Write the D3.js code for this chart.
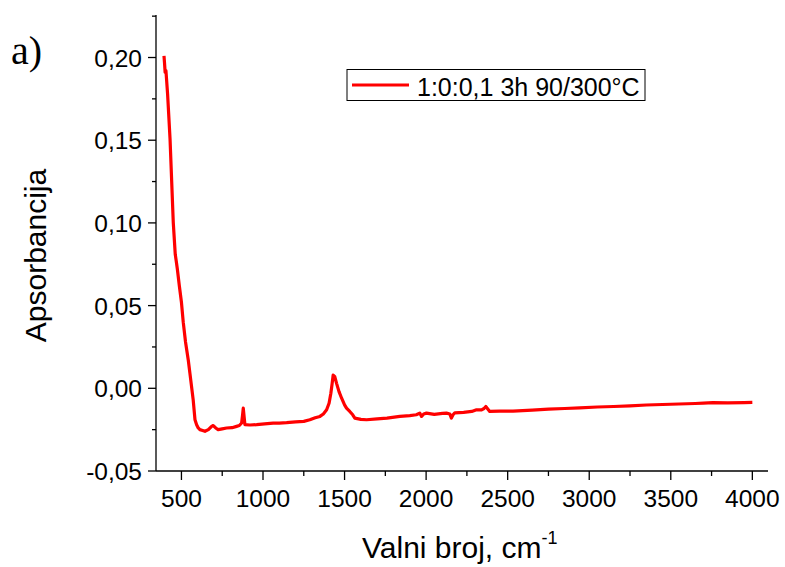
<!DOCTYPE html>
<html><head><meta charset="utf-8">
<script src="https://cdn.jsdelivr.net/npm/d3@7"></script>
<style>body{margin:0;background:#fff}svg{display:block}text{font-family:Arial,"Liberation Sans",sans-serif}</style>
</head><body>
<svg id="c" width="785" height="567"></svg>
<script>
// Data
const wavenumber = [393,396,400,405,415,430,450,462,468,475,487,500,511,525,542,552,562,572,583,593,603,613,630,644,665,685,695,710,725,750,777,810,838,855,869,875,879,884,889,920,961,1010,1062,1100,1145,1200,1250,1287,1320,1349,1370,1390,1405,1416,1424,1430,1440,1451,1466,1482,1500,1512,1532,1550,1563,1600,1635,1700,1760,1839,1900,1940,1961,1972,1985,2002,2050,2100,2125,2145,2155,2165,2176,2230,2280,2309,2340,2355,2366,2378,2390,2450,2533,2650,2750,2850,2942,3050,3150,3250,3350,3450,3550,3650,3700,3758,3850,3950,4000];
const absorbance = [0.201,0.197,0.191,0.192,0.178,0.151,0.100,0.081,0.077,0.072,0.062,0.052,0.040,0.028,0.017,0.009,0.001,-0.007,-0.019,-0.022,-0.024,-0.025,-0.0255,-0.026,-0.025,-0.023,-0.0225,-0.024,-0.025,-0.0245,-0.024,-0.0238,-0.023,-0.0225,-0.021,-0.016,-0.012,-0.017,-0.022,-0.0222,-0.022,-0.0215,-0.021,-0.021,-0.0208,-0.0203,-0.020,-0.019,-0.0178,-0.017,-0.0155,-0.013,-0.009,-0.003,0.003,0.008,0.007,0.003,-0.002,-0.006,-0.010,-0.012,-0.014,-0.016,-0.018,-0.0188,-0.019,-0.0185,-0.018,-0.017,-0.0165,-0.016,-0.015,-0.017,-0.0155,-0.015,-0.0158,-0.0152,-0.015,-0.0155,-0.018,-0.016,-0.0148,-0.0145,-0.014,-0.013,-0.013,-0.0122,-0.011,-0.0125,-0.014,-0.0138,-0.0138,-0.0132,-0.0126,-0.0122,-0.0118,-0.0113,-0.011,-0.0106,-0.0101,-0.0098,-0.0095,-0.0092,-0.009,-0.0087,-0.0088,-0.0086,-0.0085];
const xTicks = [500,1000,1500,2000,2500,3000,3500,4000];
const yTicks = [-0.05,0.00,0.05,0.10,0.15,0.20];
const seriesName = "1:0:0,1 3h 90/300°C";
const xTitle = "Valni broj, cm";
const xTitleSup = "-1";
const yTitle = "Apsorbancija";
const panelLabel = "a)";

const svg = d3.select("#c");
const L=156, R=768, T=15, B=471;
const x = d3.scaleLinear().domain([344,4096]).range([L,R]);
const y = d3.scaleLinear().domain([-0.05,0.2257]).range([B,T]);
const fmt = d => d3.format(".2f")(d).replace(".",",").replace("\u2212","-");

const xMinor = d3.range(750,4001,500);
const yMinor = d3.range(-0.025,0.226,0.05);

const gx = svg.append("g").attr("transform",`translate(0,${B})`);
gx.append("line").attr("x1",L).attr("x2",R).attr("stroke","#000").attr("stroke-width",1.3);
gx.selectAll(".mj").data(xTicks).join("line").attr("x1",d=>x(d)).attr("x2",d=>x(d)).attr("y1",0).attr("y2",9).attr("stroke","#000").attr("stroke-width",1.3);
gx.selectAll(".mn").data(xMinor).join("line").attr("x1",d=>x(d)).attr("x2",d=>x(d)).attr("y1",0).attr("y2",5).attr("stroke","#000").attr("stroke-width",1.3);
gx.selectAll("text").data(xTicks).join("text").attr("x",d=>x(d)).attr("y",36).attr("text-anchor","middle").attr("font-size",24.5).text(d=>d);

const gy = svg.append("g");
gy.append("line").attr("x1",L).attr("x2",L).attr("y1",T).attr("y2",B).attr("stroke","#000").attr("stroke-width",1.3);
gy.selectAll(".mj").data(yTicks).join("line").attr("x1",L-8).attr("x2",L).attr("y1",d=>y(d)).attr("y2",d=>y(d)).attr("stroke","#000").attr("stroke-width",1.3);
gy.selectAll(".mn").data(yMinor).join("line").attr("x1",L-4).attr("x2",L).attr("y1",d=>y(d)).attr("y2",d=>y(d)).attr("stroke","#000").attr("stroke-width",1.3);
gy.selectAll("text").data(yTicks).join("text").attr("x",L-14).attr("y",d=>y(d)+9).attr("text-anchor","end").attr("font-size",24.5).text(fmt);

// line
const line = d3.line().x((d,i)=>x(wavenumber[i])).y(d=>y(d));
svg.append("path").datum(absorbance).attr("d",line).attr("fill","none").attr("stroke","#ff0000").attr("stroke-width",3.2).attr("stroke-linejoin","round");

// titles
const xt = svg.append("text").attr("x",362).attr("y",558).attr("font-size",30);
xt.append("tspan").text(xTitle);
xt.append("tspan").attr("font-size",18).attr("dy",-14).text(xTitleSup);
svg.append("text").attr("transform","translate(46,255.5) rotate(-90)").attr("text-anchor","middle").attr("font-size",30).text(yTitle);
svg.append("text").attr("x",11).attr("y",64).style("font-family","'Liberation Serif','Times New Roman',serif").attr("font-size",40).text(panelLabel);

// legend
const lg = svg.append("g");
lg.append("rect").attr("x",347).attr("y",69.5).attr("width",298).attr("height",31).attr("fill","#fff").attr("stroke","#000").attr("stroke-width",1);
lg.append("line").attr("x1",352).attr("x2",409).attr("y1",85).attr("y2",85).attr("stroke","#ff0000").attr("stroke-width",3);
lg.append("text").attr("x",417).attr("y",96).attr("font-size",25).text(seriesName);
</script>
</body></html>
